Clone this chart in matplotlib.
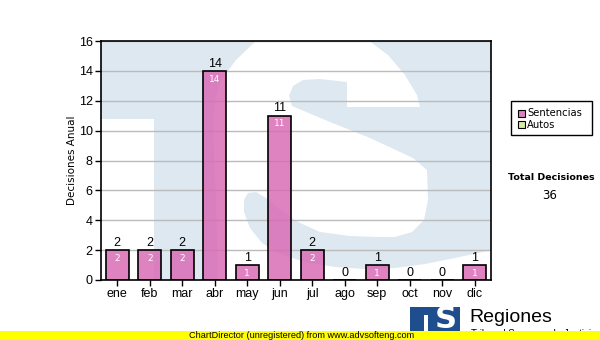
import matplotlib
matplotlib.use("Agg")
import matplotlib.pyplot as plt
from matplotlib.patches import Polygon, Rectangle
import numpy as np

months = ["ene", "feb", "mar", "abr", "may", "jun", "jul", "ago", "sep", "oct", "nov", "dic"]
sentencias = [2, 2, 2, 14, 1, 11, 2, 0, 1, 0, 0, 1]
y_ticks = [0, 2, 4, 6, 8, 10, 12, 14, 16]
legend_labels = ["Sentencias", "Autos"]
total_label = "Total Decisiones"
total_value = sum(sentencias)

W, H = 600, 340
fig = plt.figure(figsize=(W / 100, H / 100), dpi=100)
fig.patch.set_facecolor("white")

# plot area in pixels
PX0, PX1, PY0, PY1 = 101, 491, 41, 280
ax = fig.add_axes([PX0 / W, 1 - PY1 / H, (PX1 - PX0) / W, (PY1 - PY0) / H])

def to_ax(pts):
    return [((x - PX0) / (PX1 - PX0), (PY1 - y) / (PY1 - PY0)) for x, y in pts]

LB = "#DEE8F1"
# watermark logo (decoration)
ax.add_patch(Rectangle((0, 0), 1, 1, transform=ax.transAxes, facecolor=LB, edgecolor="none", zorder=0))
ax.add_patch(Polygon(to_ax([(100, 119), (154, 119), (154, 282), (100, 282)]), closed=True,
                     transform=ax.transAxes, facecolor="white", edgecolor="none", zorder=0.1))
w2 = [(257, 40), (368, 40), (388, 55), (405, 75), (417, 95), (420, 107), (347, 107), (347, 82),
      (320, 79), (303, 80), (293, 86), (289, 96), (292, 106), (330, 122), (370, 138), (413, 158),
      (427, 170), (428, 200), (424, 220), (412, 232), (395, 237), (378, 237),
      (350, 236), (320, 232), (298, 222), (280, 210), (266, 198), (256, 192), (248, 193),
      (244, 200), (244, 212), (250, 228), (262, 243), (280, 254), (305, 262), (335, 267),
      (365, 269), (395, 268), (425, 264), (455, 258), (492, 250), (492, 282), (218, 282),
      (217, 250), (216, 200), (214, 160), (213, 120), (215, 100), (221, 80), (236, 60), (257, 40)]
ax.add_patch(Polygon(to_ax(w2), closed=True, transform=ax.transAxes,
                     facecolor="white", edgecolor="none", zorder=0.1))

x = np.arange(len(months))
bar_color = (217 / 255, 108 / 255, 181 / 255, 0.85)
ax.bar(x, sentencias, width=0.71, color=bar_color, edgecolor="black", linewidth=1.2, zorder=3)

for xi, v in zip(x, sentencias):
    ax.text(xi, v + 0.08, str(v), ha="center", va="bottom", fontsize=9,
            family="Liberation Sans", color="black", zorder=5)
    if v > 0:
        ax.text(xi, v - 0.25, str(v), ha="center", va="top", fontsize=6.5,
                family="DejaVu Sans", color="white", zorder=5)

ax.set_xlim(-0.5, len(months) - 0.5)
ax.set_ylim(0, 16)
ax.set_yticks(y_ticks)
ax.set_xticks(x)
ax.set_xticklabels(months)
ax.yaxis.grid(True, color="#BBBBBB", linewidth=1.0, zorder=1)
ax.set_axisbelow(True)
for lab in ax.get_xticklabels() + ax.get_yticklabels():
    lab.set_fontfamily("Liberation Sans")
    lab.set_fontsize(9)
ax.tick_params(axis="both", direction="out", length=4, width=1, color="black", pad=2)
for s in ax.spines.values():
    s.set_linewidth(1.2)
    s.set_color("black")
    s.set_zorder(6)
ax.set_ylabel("Decisiones Anual", fontsize=7.5, family="DejaVu Sans", labelpad=1.5)

def fx(px):
    return px / W
def fy(py):
    return 1 - py / H

# legend box
fig.patches.append(Rectangle((fx(511), fy(135)), (592 - 511) / W, (135 - 101) / H,
                             transform=fig.transFigure, facecolor="white", edgecolor="black", linewidth=1))
legend_colors = [(221 / 255, 128 / 255, 190 / 255), "#D8EBA0"]
for i, (lab, col) in enumerate(zip(legend_labels, legend_colors)):
    yy = 113.5 + i * 11
    fig.patches.append(Rectangle((fx(518), fy(yy + 3.5)), 7 / W, 7 / H, transform=fig.transFigure,
                                 facecolor=col, edgecolor="black", linewidth=0.8))
    fig.text(fx(527), fy(yy), lab, fontsize=7.2, family="DejaVu Sans", va="center", ha="left")

fig.text(fx(551), fy(178), total_label, fontsize=6.8, fontweight="bold", family="DejaVu Sans",
         ha="center", va="center")
fig.text(fx(550), fy(196), str(total_value), fontsize=8.5, family="DejaVu Sans", ha="center", va="center")

# bottom logo
fig.patches.append(Rectangle((fx(410), fy(335)), 50 / W, 28 / H, transform=fig.transFigure,
                             facecolor="#1F4E8E", edgecolor="none", zorder=1))
fig.text(fx(446), fy(320), "S", fontsize=22, fontweight="bold", family="DejaVu Sans",
         color="white", ha="center", va="center", zorder=2)
fig.patches.append(Rectangle((fx(424), fy(335)), 4 / W, 20 / H, transform=fig.transFigure,
                             facecolor="white", edgecolor="none", zorder=2))
fig.text(fx(469), fy(322), "Regiones", fontsize=14, family="Liberation Sans", ha="left", va="baseline")
fig.text(fx(471), fy(329), "Tribunal Supremo de Justicia", fontsize=7, family="Liberation Sans",
         ha="left", va="top", zorder=1)

# yellow strip
fig.patches.append(Rectangle((0, 0), 1, 9.5 / H, transform=fig.transFigure,
                             facecolor="#FFFF00", edgecolor="none", zorder=5))
fig.text(fx(302), fy(335.5), "ChartDirector (unregistered) from www.advsofteng.com", fontsize=6.6,
         family="Liberation Sans", ha="center", va="center", zorder=6)

fig.savefig("out.png", dpi=100)
